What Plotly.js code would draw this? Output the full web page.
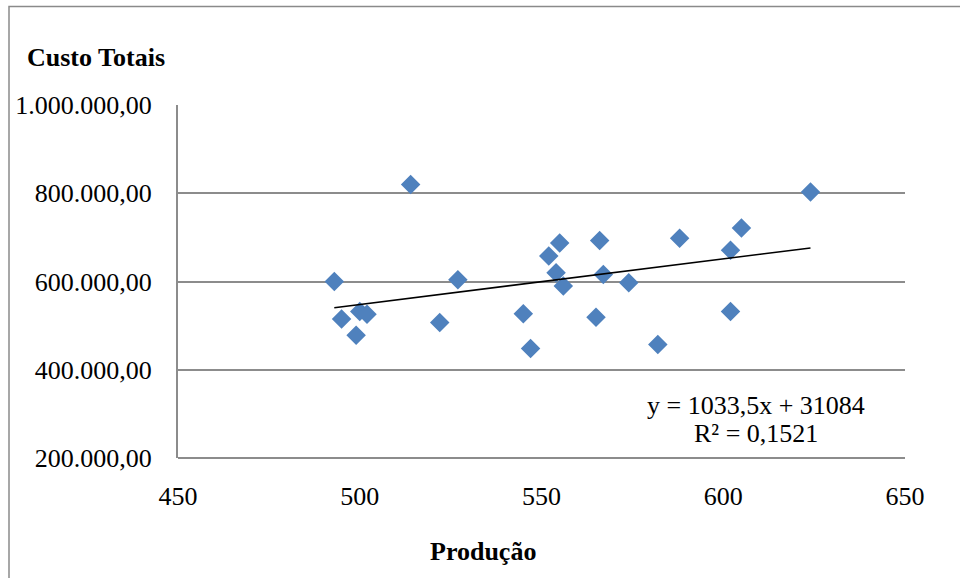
<!DOCTYPE html>
<html>
<head>
<meta charset="utf-8">
<script src="https://cdn.plot.ly/plotly-3.0.1.min.js"></script>
<style>
html,body{margin:0;padding:0;background:#fff;}
#chart{width:960px;height:578px;}
</style>
</head>
<body>
<div id="chart"></div>
<script>
// Data
var producao = [493, 514, 495, 500, 502, 499, 527, 522, 545, 547,
                552, 555, 554, 556, 566, 567, 565, 574, 582, 588,
                602, 605, 602, 624];
var custoTotais = [600000, 820000, 515000, 532000, 526000, 478000, 604000, 507000, 527000, 448000,
                   658000, 687000, 620000, 590000, 693000, 616000, 519000, 597000, 457000, 698000,
                   671000, 721000, 532000, 803000];
var yTickVals = [200000, 400000, 600000, 800000, 1000000];
var xTickVals = [450, 500, 550, 600, 650];
var trendSlope = 1033.5;
var trendIntercept = 31084;
var equationText = "y = 1033,5x + 31084";
var r2Text = "R² = 0,1521";

var xmin = Math.min.apply(null, producao);
var xmax = Math.max.apply(null, producao);
var trendX = [xmin, xmax];
var trendY = trendX.map(function(x){ return trendSlope * x + trendIntercept; });

var FONT = "Liberation Serif, Times New Roman, serif";
var GRID = "#8c8c8c";

var traces = [
  {
    x: producao, y: custoTotais, type: "scatter", mode: "markers",
    marker: {symbol: "diamond", size: 15, color: "#4F81BD", line: {width: 0}},
    hoverinfo: "x+y", showlegend: false
  },
  {
    x: trendX, y: trendY, type: "scatter", mode: "lines",
    line: {color: "#000000", width: 1.6}, hoverinfo: "skip", showlegend: false
  }
];

var L = 178, R = 55, T = 105, B = 120, W = 960, H = 578;
var pw = W - L - R, ph = H - T - B;
function px(xpix){ return (xpix - L) / pw; }
function py(ypix){ return (H - B - ypix) / ph; }

var layout = {
  width: W, height: H,
  margin: {l: L, r: R, t: T, b: B, pad: 0},
  paper_bgcolor: "#ffffff", plot_bgcolor: "#ffffff",
  separators: ",.",
  font: {family: FONT, color: "#000000", size: 26},
  showlegend: false,
  xaxis: {
    range: [450, 650], tickvals: xTickVals, tickformat: "d",
    showgrid: false, zeroline: false, showline: false,
    ticks: "", ticklabelstandoff: 20,
    tickfont: {family: FONT, size: 26, color: "#000"}
  },
  yaxis: {
    range: [200000, 1000000], tickvals: yTickVals, tickformat: ",.2f",
    showgrid: true, gridcolor: GRID, gridwidth: 2,
    zeroline: false, showline: true, linecolor: GRID, linewidth: 2,
    ticks: "", ticklabelstandoff: 19,
    tickfont: {family: FONT, size: 26, color: "#000"}
  },
  shapes: [
    {type: "rect", xref: "paper", yref: "paper",
     x0: px(9), x1: px(965), y0: py(585), y1: py(6.5),
     line: {color: "#8a8a8a", width: 1.5}, fillcolor: "rgba(0,0,0,0)", layer: "below"},
    {type: "line", xref: "paper", yref: "paper",
     x0: 0, x1: 1, y0: 0, y1: 0, line: {color: GRID, width: 2}}
  ],
  annotations: [
    {text: "<b>Custo Totais</b>", xref: "paper", yref: "paper",
     x: px(25), y: py(57), xanchor: "left", yanchor: "middle", showarrow: false,
     font: {family: FONT, size: 26, color: "#000"}},
    {text: "<b>Produção</b>", xref: "paper", yref: "paper",
     x: px(483), y: py(551), xanchor: "center", yanchor: "middle", showarrow: false,
     font: {family: FONT, size: 26, color: "#000"}},
    {text: equationText, xref: "paper", yref: "paper",
     x: px(756), y: py(405), xanchor: "center", yanchor: "middle", showarrow: false,
     font: {family: FONT, size: 26, color: "#000"}},
    {text: r2Text, xref: "paper", yref: "paper",
     x: px(756), y: py(433), xanchor: "center", yanchor: "middle", showarrow: false,
     font: {family: FONT, size: 26, color: "#000"}}
  ]
};

Plotly.newPlot("chart", traces, layout, {displayModeBar: false, staticPlot: true});
</script>
</body>
</html>
